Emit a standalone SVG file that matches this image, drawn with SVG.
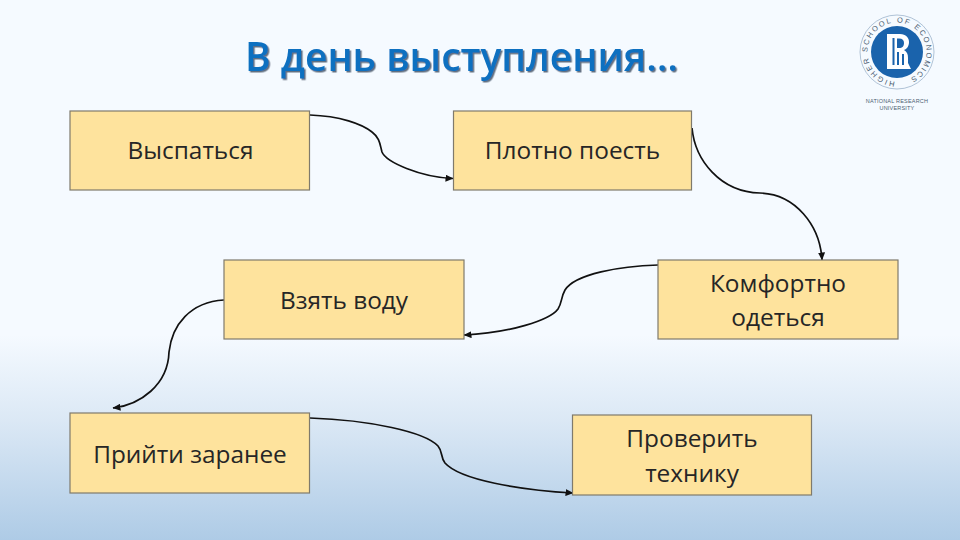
<svg xmlns="http://www.w3.org/2000/svg" width="960" height="540" viewBox="0 0 960 540">
<style>
.box{fill:#fee39d;stroke:#7f7a6c;stroke-width:1.2}
.lbl{font-family:"Open Sans","Noto Sans",sans-serif;font-size:24.400px;fill:#262626;text-anchor:middle;font-weight:500}
.conn{fill:none;stroke:#111;stroke-width:1.700;marker-end:url(#arr)}
.title{font-family:"Open Sans","Noto Sans",sans-serif;font-size:40px;font-weight:600;fill:#0f6fc0;filter:url(#ts)}
.small{font-family:"Liberation Sans",sans-serif;fill:#4d5f73;text-anchor:middle}
.ring{font-family:"Liberation Sans",sans-serif;fill:#4d5f73;font-size:7.500px;letter-spacing:1.800px}
</style>
<defs>
<linearGradient id="bg" x1="0" y1="0" x2="0" y2="1">
<stop offset="0" stop-color="#f5faff"/><stop offset=".62" stop-color="#f5faff"/><stop offset=".78" stop-color="#dbe8f5"/><stop offset="1" stop-color="#aecbe6"/>
</linearGradient>
<filter id="ts" x="-5%" y="-10%" width="110%" height="130%"><feDropShadow dx="1.500" dy="1.500" stdDeviation=".4" flood-color="#46586c" flood-opacity=".85"/></filter>
<marker id="arr" markerWidth="8" markerHeight="7" refX="7.500" refY="3.500" orient="auto" markerUnits="userSpaceOnUse"><path d="M0 0L8 3.500L0 7Z" fill="#111"/></marker>
<path id="ring" d="M895 81.400A29.500 29.500 0 1 1 899 81.400"/>
</defs>
<rect width="960" height="540" fill="url(#bg)"/>
<g id="title">
<text class="title" x="245" y="71" textLength="433" lengthAdjust="spacingAndGlyphs">В день выступления…</text>
</g>
<g id="logo">
<circle cx="897" cy="52" r="37" fill="none" stroke="#9db4cb" stroke-width=".8"/>
<circle cx="897" cy="52" r="26" fill="#1a63ac"/>
<text class="ring"><textPath href="#ring">HIGHER SCHOOL OF ECONOMICS</textPath></text>
<path d="M887 34H900C906 34 909 38 909 42C909 46 907 49 904 50C907 52 908 54 908 58V63L911 69H887Z" fill="#fff"/>
<path d="M892.500 38V65H894.500V38ZM899 38.500H897V48H899C902.500 48 904 46 904 43C904 40 902.500 38.500 899 38.500ZM897 52V65H899V52ZM902 54V65H904V54Z" fill="#1a63ac"/>
<text class="small" x="897" y="102.500" font-size="5.500" letter-spacing=".2">NATIONAL RESEARCH</text>
<text class="small" x="897" y="110" font-size="5.500" letter-spacing=".2">UNIVERSITY</text>
</g>
<g id="connectors">
<path class="conn" d="M310 115C340 116 362 124 372 132C380 138 380 145 382 152C386 162 420 177 453 178.500"/>
<path class="conn" d="M692 128C695 160 720 192 760 193C795 194 820 225 822 260"/>
<path class="conn" d="M658 265C620 266 575 274 565 290C561 297 562 303 558 309C550 320 510 333 464 335"/>
<path class="conn" d="M224 300C190 302 172 325 169 352C168 385 140 405 113 408"/>
<path class="conn" d="M310 418C370 420 425 432 438 446C443 452 440 456 445 463C460 480 520 490 573 493"/>
</g>
<g id="n1"><rect class="box" x="70" y="111" width="239.500" height="79"/><text class="lbl" x="190.500" y="159">Выспаться</text></g>
<g id="n2"><rect class="box" x="453.500" y="111" width="238" height="79"/><text class="lbl" x="572.500" y="159">Плотно поесть</text></g>
<g id="n3"><rect class="box" x="224" y="260" width="240" height="79"/><text class="lbl" x="344" y="309">Взять воду</text></g>
<g id="n4"><rect class="box" x="658" y="260" width="240" height="79"/><text class="lbl" x="778" y="292">Комфортно</text><text class="lbl" x="778" y="326">одеться</text></g>
<g id="n5"><rect class="box" x="70" y="413" width="239.500" height="80"/><text class="lbl" x="190" y="463">Прийти заранее</text></g>
<g id="n6"><rect class="box" x="572.500" y="415" width="239" height="80"/><text class="lbl" x="692" y="447">Проверить</text><text class="lbl" x="692" y="482">технику</text></g>
</svg>
